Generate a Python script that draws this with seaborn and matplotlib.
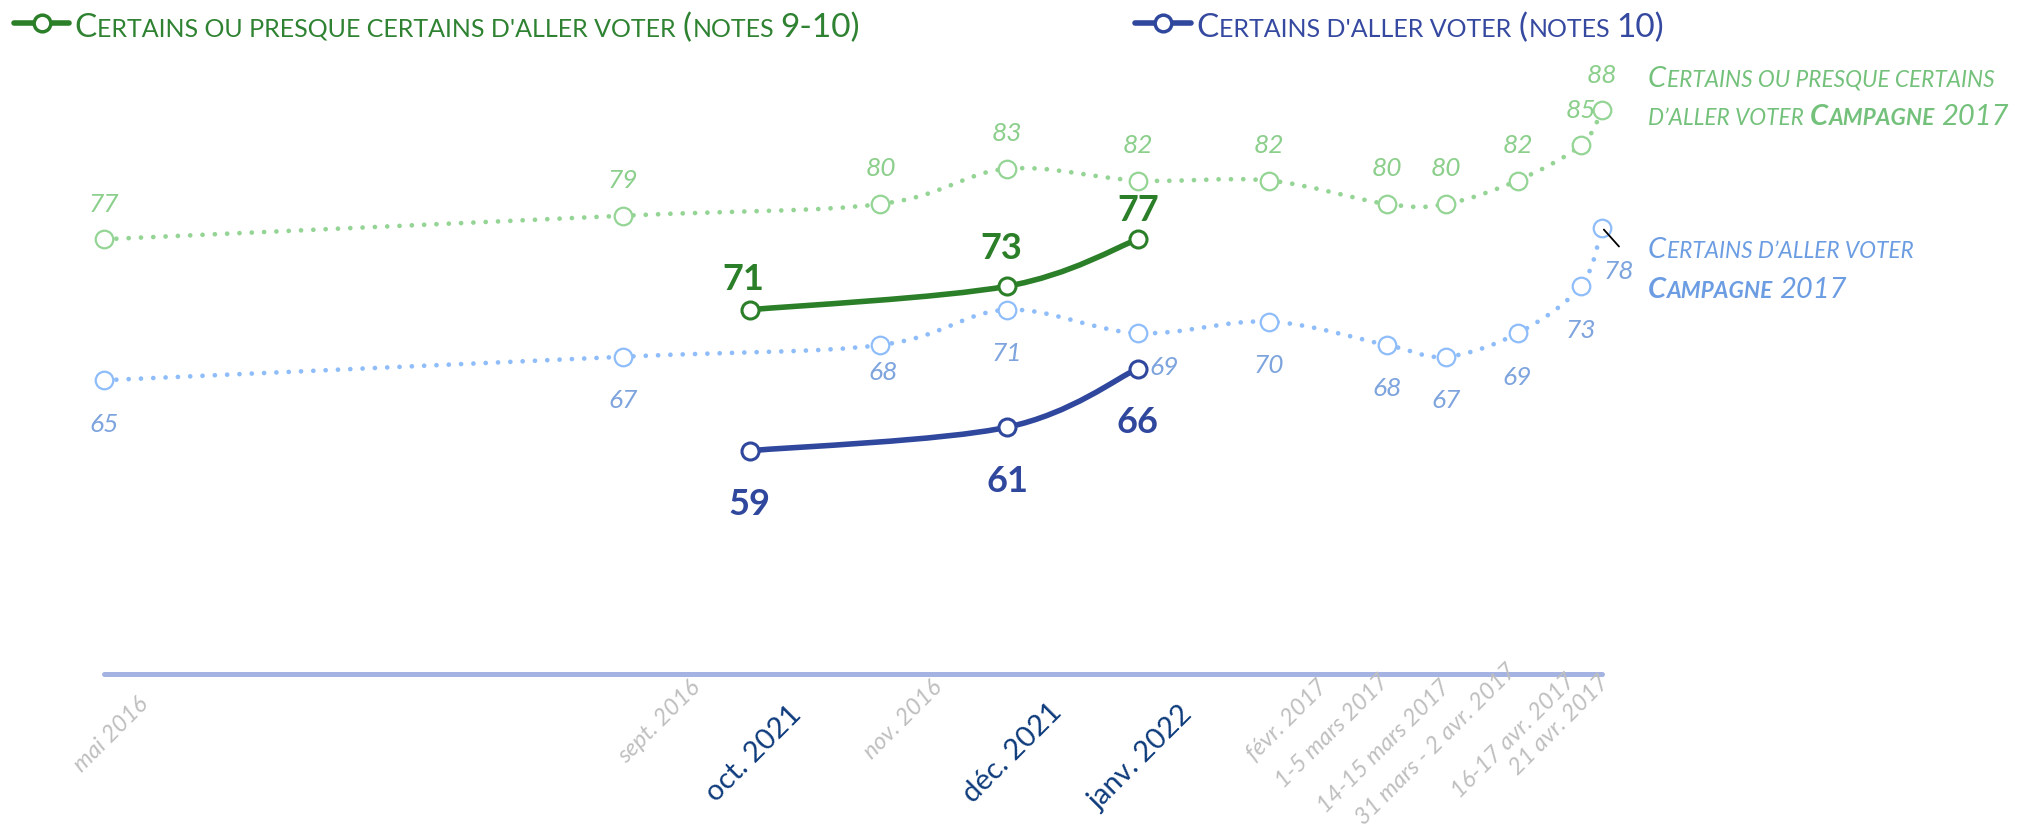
import matplotlib

matplotlib.use("Agg")

import matplotlib.dates as mdates
import matplotlib.pyplot as plt
import numpy as np
import seaborn as sns
from matplotlib.lines import Line2D
from matplotlib.patches import PathPatch
from matplotlib.path import Path

# --- data -------------------------------------------------------------
# campagne 2017 : dates d'enquête
dates_2017 = ["2016-05-01", "2016-09-01", "2016-11-01", "2016-12-01", "2017-01-01", "2017-02-01",
              "2017-03-01", "2017-03-15", "2017-04-01", "2017-04-16", "2017-04-21"]
labels_2017 = ["mai 2016", "sept. 2016", "nov. 2016", "déc. 2016", "janv. 2017", "févr. 2017",
               "1-5 mars 2017", "14-15 mars 2017", "31 mars - 2 avr. 2017", "16-17 avr. 2017", "21 avr. 2017"]
presque_2017 = [77, 79, 80, 83, 82, 82, 80, 80, 82, 85, 88]
certains_2017 = [65, 67, 68, 71, 69, 70, 68, 67, 69, 73, 78]

# campagne 2022, placée sur le calendrier de 2017
dates_2022 = ["2016-10-01", "2016-12-01", "2017-01-01"]
labels_2022 = ["oct. 2021", "déc. 2021", "janv. 2022"]
presque_2022 = [71, 73, 77]
certains_2022 = [59, 61, 66]

# --- style --------------------------------------------------------------
W, H, DPI = 2032, 829, 100
DARK_GREEN = "#2B7F28"
DARK_BLUE = "#2F479D"
LIGHT_GREEN = "#94D494"
LIGHT_GREEN_TXT = "#8CCF8C"
LIGHT_BLUE = "#8EBDFA"
LIGHT_BLUE_TXT = "#7EA4DE"
NOTE_GREEN = "#74C17B"
NOTE_BLUE = "#6C9DE2"
AXIS_COLOR = "#A5B3E2"
GRAY = "#BFBFBF"
NAVY = "#0E3B7B"

sns.set_theme(style="white")
plt.rcParams["font.family"] = ["Lato", "DejaVu Sans"]

x17 = mdates.datestr2num(dates_2017)
x22 = mdates.datestr2num(dates_2022)

fig = plt.figure(figsize=(W / DPI, H / DPI), dpi=DPI)
ax = fig.add_axes([104 / W, (H - 675) / H, (1602 - 104) / W, 55 * 11.75 / H])
ax.set_xlim(x17[0], x17[-1])
ax.set_ylim(40, 95)
ax.axis("off")


def smooth_path(x, y):
    # courbe lissée façon Excel (Catmull-Rom -> Bézier)
    pts = np.column_stack([x, y]).astype(float)
    n = len(pts)
    verts, codes = [pts[0]], [Path.MOVETO]
    for i in range(n - 1):
        p0, p1 = pts[max(i - 1, 0)], pts[i]
        p2, p3 = pts[i + 1], pts[min(i + 2, n - 1)]
        verts += [p1 + (p2 - p0) / 6, p2 - (p3 - p1) / 6, p2]
        codes += [Path.CURVE4] * 3
    return Path(verts, codes)


def draw_series(x, y, color, lw, dotted, msize, mew):
    ls = (0, (0.01, 2.6)) if dotted else "-"
    ax.add_patch(PathPatch(smooth_path(x, y), fill=False, edgecolor=color, lw=lw,
                           linestyle=ls, capstyle="round", zorder=2, clip_on=False))
    sns.scatterplot(x=x, y=y, ax=ax, s=msize, color="white", edgecolor=color,
                    linewidth=mew, zorder=3, legend=False, clip_on=False)


# axe horizontal
ax.axhline(40, color=AXIS_COLOR, lw=3.6, solid_capstyle="round", zorder=1, clip_on=False)

draw_series(x17, presque_2017, LIGHT_GREEN, 3.4, True, 160, 1.6)
draw_series(x17, certains_2017, LIGHT_BLUE, 3.4, True, 160, 1.6)
draw_series(x22, presque_2022, DARK_GREEN, 4.0, False, 150, 2.2)
draw_series(x22, certains_2022, DARK_BLUE, 4.0, False, 150, 2.2)

# étiquettes de données
green_off = [(0, 36)] * len(presque_2017)
blue_off = [(0, -43)] * len(certains_2017)
blue_off[2] = (3, -26)
blue_off[4] = (26, -33)
blue_off[10] = (17, -43)
for xv, v, (dx, dy) in zip(x17, presque_2017, green_off):
    ax.annotate(str(v), (xv, v), xytext=(dx, dy), textcoords="offset pixels", ha="center",
                va="center", fontsize=19, style="italic", color=LIGHT_GREEN_TXT)
for xv, v, (dx, dy) in zip(x17, certains_2017, blue_off):
    ax.annotate(str(v), (xv, v), xytext=(dx, dy), textcoords="offset pixels", ha="center",
                va="center", fontsize=19, style="italic", color=LIGHT_BLUE_TXT)
ax.annotate("", (x17[-1], certains_2017[-1]), xytext=(17, -19), textcoords="offset pixels",
            arrowprops=dict(arrowstyle="-", color="black", lw=1.3, shrinkA=0, shrinkB=2))

for xv, v, (dx, dy) in zip(x22, presque_2022, [(-6, 31), (-6, 39), (0, 30)]):
    ax.annotate(str(v), (xv, v), xytext=(dx, dy), textcoords="offset pixels", ha="center",
                va="center", fontsize=26, fontweight="bold", color=DARK_GREEN)
for xv, v in zip(x22, certains_2022):
    ax.annotate(str(v), (xv, v), xytext=(0, -53), textcoords="offset pixels", ha="center",
                va="center", fontsize=26, fontweight="bold", color=DARK_BLUE)

# libellés de l'axe des x
gray_off = [(41, -26), (74, -9), (58, -9), None, None, (55, -8),
            (-1, -3), (1, -9), (-4, 7), (-9, -3), (4, -4)]
for xv, lab, off in zip(x17, labels_2017, gray_off):
    if off is None:
        continue
    ax.annotate(lab, (xv, 40), xytext=off, textcoords="offset pixels", rotation=45,
                rotation_mode="anchor", ha="right", va="center", fontsize=17,
                style="italic", color=GRAY, annotation_clip=False)
for xv, lab, off in zip(x22, labels_2022, [(48, -35), (51, -33), (50, -36)]):
    ax.annotate(lab, (xv, 40), xytext=off, textcoords="offset pixels", rotation=45,
                rotation_mode="anchor", ha="right", va="center", fontsize=21,
                color=NAVY, annotation_clip=False)


def caps_line(x, y, pieces, color, italic=False):
    # petites capitales simulées : morceaux enchaînés sur une même ligne de base
    prev = None
    for text, size, weight, gap in pieces:
        kw = dict(fontsize=size, fontweight=weight, color=color, va="baseline", ha="left",
                  style="italic" if italic else "normal", annotation_clip=False)
        if prev is None:
            prev = ax.annotate(text, xy=(x, H - y), xycoords="figure pixels", **kw)
        else:
            prev = ax.annotate(text, xy=(1, H - y), xycoords=(prev, "figure pixels"),
                               xytext=(gap, 0), textcoords="offset pixels", **kw)


# légende
BIG, SMALL = 24, 18
for x0, x1, color in [(14, 69, DARK_GREEN), (1135, 1191, DARK_BLUE)]:
    fig.add_artist(Line2D([x0 / W, x1 / W], [(H - 24) / H] * 2, color=color, lw=4,
                          solid_capstyle="round"))
    fig.add_artist(Line2D([(x0 + x1) / 2 / W], [(H - 24) / H], marker="o", ms=12, mew=2.5,
                          mfc="white", mec=color))
caps_line(74, 37, [("C", BIG, "normal", 0), ("ERTAINS OU PRESQUE CERTAINS D'ALLER VOTER", SMALL, "normal", 1),
                   ("(", BIG, "normal", 7), ("NOTES", SMALL, "normal", 1), ("9-10)", BIG, "normal", 6)],
          "#2E8231")
caps_line(1196, 37, [("C", BIG, "normal", 0), ("ERTAINS D'ALLER VOTER", SMALL, "normal", 1),
                     ("(", BIG, "normal", 7), ("NOTES", SMALL, "normal", 1), ("10)", BIG, "normal", 6)],
          "#3549A0")

# notes de droite
NB, NS = 21, 16.3
caps_line(1648, 87, [("C", NB, "normal", 0), ("ERTAINS OU PRESQUE CERTAINS", NS, "normal", 1)],
          NOTE_GREEN, italic=True)
caps_line(1648, 125, [("D’ALLER VOTER", NS, "normal", 0), ("C", NB, "bold", 6),
                      ("AMPAGNE", NS, "bold", 1), ("2017", NB, "normal", 6)], NOTE_GREEN, italic=True)
caps_line(1648, 258, [("C", NB, "normal", 0), ("ERTAINS D’ALLER VOTER", NS, "normal", 1)],
          NOTE_BLUE, italic=True)
caps_line(1648, 298, [("C", NB, "bold", 0), ("AMPAGNE", NS, "bold", 1), ("2017", NB, "normal", 6)],
          NOTE_BLUE, italic=True)

fig.savefig("out.png", dpi=DPI)
